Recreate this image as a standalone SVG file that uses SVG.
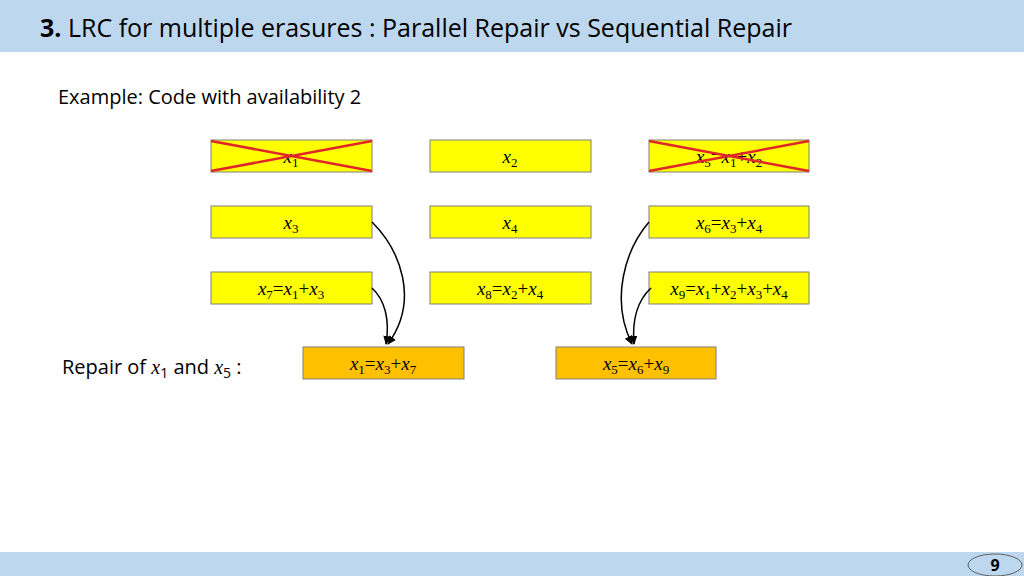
<svg xmlns="http://www.w3.org/2000/svg" width="1024" height="576" viewBox="0 0 1024 576">
<style>
.b{fill:#FFFF00;stroke:#7F7F7F;stroke-width:1}
.o{fill:#FFC000;stroke:#7F7F7F;stroke-width:1}
.m{font-family:"Liberation Serif",serif;font-style:italic;font-size:19px;text-anchor:middle}
.s{font-size:13px}
.u{font-style:normal}
.c{stroke:#E0262A;stroke-width:2.5}
.a{fill:none;stroke:#000;stroke-width:1.5;marker-end:url(#ah)}
.t{font-family:"Open Sans","Liberation Sans",sans-serif;fill:#000}
</style>
<defs><marker id="ah" markerWidth="10" markerHeight="10" refX="8" refY="5" orient="auto" markerUnits="userSpaceOnUse"><path d="M0,1 L9,5 L0,9 Z" fill="#000"/></marker></defs>
<rect x="0" y="0" width="1024" height="52" fill="#BDD7EE"/>
<text class="t" x="40" y="37" font-size="25" font-family="Liberation Sans Narrow,sans-serif"><tspan font-weight="bold">3.</tspan> LRC for multiple erasures : Parallel Repair vs Sequential Repair</text>
<rect x="0" y="552" width="1024" height="24" fill="#BDD7EE"/>
<ellipse cx="995" cy="565" rx="27" ry="11" fill="#BDD7EE" stroke="#5F5F5F"/>
<text class="t" x="995" y="571" font-size="16" font-weight="bold" text-anchor="middle">9</text>
<text class="t" x="58" y="104" font-size="20">Example: Code with availability 2</text>
<text class="t" x="62" y="374" font-size="20">Repair of <tspan font-family="Liberation Serif,serif" font-style="italic">x</tspan><tspan font-size="14" dy="4">1</tspan><tspan dy="-4"> and </tspan><tspan font-family="Liberation Serif,serif" font-style="italic">x</tspan><tspan font-size="14" dy="4">5</tspan><tspan dy="-4"> :</tspan></text>
<g id="n1"><rect class="b" x="211" y="140" width="161" height="32"/><text class="m" x="291" y="163">x<tspan class="s u" dy="4">1</tspan></text><line class="c" x1="211" y1="141" x2="372" y2="171"/><line class="c" x1="211" y1="171" x2="372" y2="141"/></g>
<g id="n2"><rect class="b" x="430" y="140" width="161" height="32"/><text class="m" x="510" y="163">x<tspan class="s u" dy="4">2</tspan></text></g>
<g id="n5"><rect class="b" x="649" y="140" width="160" height="32"/><text class="m" x="729" y="163">x<tspan class="s u" dy="4">5</tspan><tspan class="u" dy="-4">=</tspan>x<tspan class="s u" dy="4">1</tspan><tspan class="u" dy="-4">+</tspan>x<tspan class="s u" dy="4">2</tspan></text><line class="c" x1="649" y1="141" x2="809" y2="171"/><line class="c" x1="649" y1="171" x2="809" y2="141"/></g>
<g id="n3"><rect class="b" x="211" y="206" width="161" height="32"/><text class="m" x="291" y="229">x<tspan class="s u" dy="4">3</tspan></text></g>
<g id="n4"><rect class="b" x="430" y="206" width="161" height="32"/><text class="m" x="510" y="229">x<tspan class="s u" dy="4">4</tspan></text></g>
<g id="n6"><rect class="b" x="649" y="206" width="160" height="32"/><text class="m" x="729" y="229">x<tspan class="s u" dy="4">6</tspan><tspan class="u" dy="-4">=</tspan>x<tspan class="s u" dy="4">3</tspan><tspan class="u" dy="-4">+</tspan>x<tspan class="s u" dy="4">4</tspan></text></g>
<g id="n7"><rect class="b" x="211" y="272" width="161" height="32"/><text class="m" x="291" y="295">x<tspan class="s u" dy="4">7</tspan><tspan class="u" dy="-4">=</tspan>x<tspan class="s u" dy="4">1</tspan><tspan class="u" dy="-4">+</tspan>x<tspan class="s u" dy="4">3</tspan></text></g>
<g id="n8"><rect class="b" x="430" y="272" width="161" height="32"/><text class="m" x="510" y="295">x<tspan class="s u" dy="4">8</tspan><tspan class="u" dy="-4">=</tspan>x<tspan class="s u" dy="4">2</tspan><tspan class="u" dy="-4">+</tspan>x<tspan class="s u" dy="4">4</tspan></text></g>
<g id="n9"><rect class="b" x="649" y="272" width="160" height="32"/><text class="m" x="729" y="295">x<tspan class="s u" dy="4">9</tspan><tspan class="u" dy="-4">=</tspan>x<tspan class="s u" dy="4">1</tspan><tspan class="u" dy="-4">+</tspan>x<tspan class="s u" dy="4">2</tspan><tspan class="u" dy="-4">+</tspan>x<tspan class="s u" dy="4">3</tspan><tspan class="u" dy="-4">+</tspan>x<tspan class="s u" dy="4">4</tspan></text></g>
<g id="r1"><rect class="o" x="303" y="347" width="161" height="32"/><text class="m" x="383" y="370">x<tspan class="s u" dy="4">1</tspan><tspan class="u" dy="-4">=</tspan>x<tspan class="s u" dy="4">3</tspan><tspan class="u" dy="-4">+</tspan>x<tspan class="s u" dy="4">7</tspan></text></g>
<g id="r5"><rect class="o" x="556" y="347" width="160" height="32"/><text class="m" x="636" y="370">x<tspan class="s u" dy="4">5</tspan><tspan class="u" dy="-4">=</tspan>x<tspan class="s u" dy="4">6</tspan><tspan class="u" dy="-4">+</tspan>x<tspan class="s u" dy="4">9</tspan></text></g>
<g id="connectors">
<path class="a" d="M372,222 C400,250 420,300 388,344"/>
<path class="a" d="M372,288 C385,300 390,320 386,344"/>
<path class="a" d="M649,222 C625,250 610,300 632,344"/>
<path class="a" d="M651,288 C638,300 632,320 634,344"/>
</g>
</svg>
